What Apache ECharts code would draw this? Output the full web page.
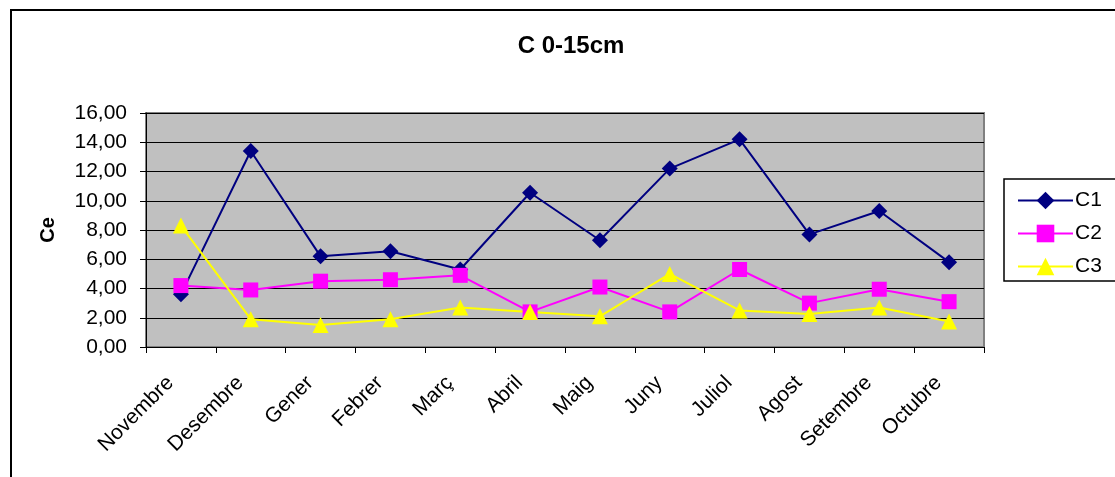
<!DOCTYPE html>
<html>
<head>
<meta charset="utf-8">
<script src="https://cdn.jsdelivr.net/npm/echarts@6/dist/echarts.min.js"></script>
<style>
  html, body { margin: 0; padding: 0; background: #fff; }
  #chart { width: 1115px; height: 477px; }
</style>
</head>
<body>
<div id="chart"></div>
<script>
// Monthly carbon values, layer 0-15 cm
const months = ['Novembre', 'Desembre', 'Gener', 'Febrer', 'Març', 'Abril',
                'Maig', 'Juny', 'Juliol', 'Agost', 'Setembre', 'Octubre'];
const c1 = [3.6, 13.4, 6.2, 6.55, 5.3, 10.55, 7.3, 12.2, 14.2, 7.7, 9.3, 5.8];
const c2 = [4.2, 3.9, 4.5, 4.6, 4.9, 2.4, 4.1, 2.4, 5.3, 3.0, 3.95, 3.1];
const c3 = [8.3, 1.9, 1.5, 1.9, 2.7, 2.4, 2.1, 5.0, 2.5, 2.25, 2.7, 1.75];
const yTicks = [0, 2, 4, 6, 8, 10, 12, 14, 16];

const FONT = 'Liberation Sans, Arial, sans-serif';

const chart = echarts.init(document.getElementById('chart'), null, { renderer: 'canvas' });

function lineSeries(name, data, color, symbol, size) {
  return {
    name: name,
    type: 'line',
    data: data,
    symbol: symbol,
    symbolSize: size,
    showAllSymbol: true,
    lineStyle: { color: color, width: 2 },
    itemStyle: { color: color, borderWidth: 0 },
    emphasis: { disabled: true },
    animation: false
  };
}

chart.setOption({
  animation: false,
  backgroundColor: '#ffffff',
  title: {
    text: 'C 0-15cm',
    left: 566,
    textAlign: 'center',
    top: 29,
    textStyle: { fontFamily: FONT, fontSize: 24, fontWeight: 'bold', color: '#000' }
  },
  graphic: [
    {
      type: 'rect',
      silent: true,
      z: -10,
      shape: { x: 11, y: 10, width: 1200, height: 600 },
      style: { fill: 'none', stroke: '#000', lineWidth: 2 }
    },
    {
      type: 'rect',
      silent: true,
      z: 0,
      shape: { x: 1004, y: 179, width: 200, height: 102 },
      style: { fill: '#fff', stroke: '#000', lineWidth: 1.5 }
    }
  ],
  legend: {
    orient: 'vertical',
    left: 1012,
    top: 185,
    itemWidth: 55,
    itemHeight: 22,
    itemGap: 12,
    z: 5,
    textStyle: { fontFamily: FONT, fontSize: 21, color: '#000', padding: [0, 0, 0, -3] },
    data: ['C1', 'C2', 'C3']
  },
  grid: {
    left: 146,
    right: 131,
    top: 113,
    bottom: 130,
    show: true,
    backgroundColor: '#c0c0c0',
    borderColor: '#808080',
    borderWidth: 2,
    containLabel: false
  },
  xAxis: {
    type: 'category',
    data: months,
    boundaryGap: true,
    axisLine: { show: true, lineStyle: { color: '#000', width: 1 } },
    axisTick: { show: true, alignWithLabel: false, length: 6, lineStyle: { color: '#000' } },
    axisLabel: {
      interval: 0,
      rotate: 45,
      margin: 22,
      padding: [0, 15, 0, 0],
      fontFamily: FONT,
      fontSize: 21,
      color: '#000'
    },
    splitLine: { show: false }
  },
  yAxis: {
    type: 'value',
    min: yTicks[0],
    max: yTicks[yTicks.length - 1],
    interval: 2,
    name: 'Ce',
    nameLocation: 'middle',
    nameGap: 88,
    nameRotate: 90,
    nameTextStyle: { fontFamily: FONT, fontSize: 20, fontWeight: 'bold', color: '#000' },
    axisLine: { show: true, lineStyle: { color: '#000', width: 1 } },
    axisTick: { show: true, length: 6, lineStyle: { color: '#000' } },
    axisLabel: {
      margin: 19,
      fontFamily: FONT,
      fontSize: 21,
      color: '#000',
      formatter: function (v) { return v.toFixed(2).replace('.', ','); }
    },
    splitLine: { show: true, lineStyle: { color: '#000', width: 1 } }
  },
  series: [
    lineSeries('C1', c1, '#000080', 'diamond', 16),
    lineSeries('C2', c2, '#ff00ff', 'rect', 15),
    lineSeries('C3', c3, '#ffff00', 'triangle', 16)
  ]
});
</script>
</body>
</html>
